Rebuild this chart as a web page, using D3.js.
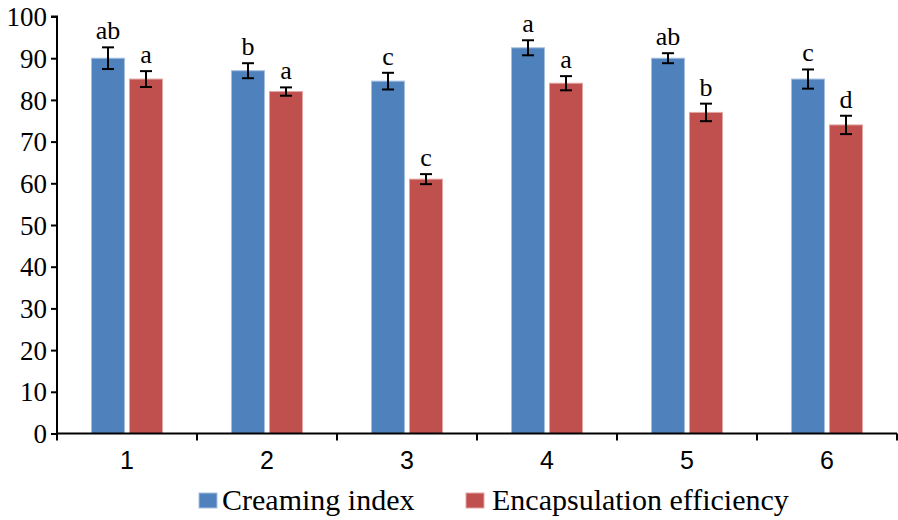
<!DOCTYPE html>
<html><head><meta charset="utf-8">
<script src="https://cdn.jsdelivr.net/npm/d3@7"></script>
<style>body{margin:0;background:#fff}
.serif{font-family:"Liberation Serif","Times New Roman",Times,"DejaVu Serif",serif}
.sans{font-family:"Liberation Sans",Arial,sans-serif}</style>
</head><body>
<svg id="c" width="898" height="520"></svg>
<script>
const categories = ["1","2","3","4","5","6"];
const seriesNames = ["Creaming index","Encapsulation efficiency"];
const creaming = [90, 87, 84.5, 92.5, 90, 85];
const creamingErr = [2.6, 1.8, 2.0, 1.8, 1.2, 2.3];
const creamingLetters = ["ab","b","c","a","ab","c"];
const encaps = [85, 82, 61, 84, 77, 74];
const encapsErr = [1.9, 1.0, 1.2, 1.7, 2.1, 2.2];
const encapsLetters = ["a","a","c","a","b","d"];
const yTicks = [0,10,20,30,40,50,60,70,80,90,100];
const colors = ["#4F81BD","#C0504D"];
const strokes = ["#a7c0e0","#e3a6a4"];

const svg = d3.select("#c");
const x0 = 57, x1 = 897, yb = 433.5, yt = 16.5;
const x = d3.scaleBand().domain(categories).range([x0, x1]).padding(0);
const y = d3.scaleLinear().domain([0,100]).range([yb, yt]);
const xs = d3.scaleBand().domain([0,1]).range([-35.5, 35.5]).paddingInner(0.13);

const series = [
  {vals: creaming, err: creamingErr, lets: creamingLetters},
  {vals: encaps, err: encapsErr, lets: encapsLetters}
];

series.forEach((s, si) => {
  const g = svg.append("g");
  categories.forEach((c, i) => {
    const cx = x(c) + x.bandwidth()/2 + xs(si);
    const w = xs.bandwidth();
    g.append("rect").attr("x", cx).attr("y", y(s.vals[i]))
      .attr("width", w).attr("height", yb - y(s.vals[i]))
      .attr("fill", colors[si]).attr("stroke", strokes[si]).attr("stroke-width", 1);
    const mx = cx + w/2;
    const hi = y(s.vals[i] + s.err[i]), lo = y(s.vals[i] - s.err[i]);
    g.append("line").attr("x1", mx).attr("x2", mx).attr("y1", hi).attr("y2", lo).attr("stroke","#000").attr("stroke-width",2);
    g.append("line").attr("x1", mx-6).attr("x2", mx+6).attr("y1", hi).attr("y2", hi).attr("stroke","#000").attr("stroke-width",2);
    g.append("line").attr("x1", mx-6).attr("x2", mx+6).attr("y1", lo).attr("y2", lo).attr("stroke","#000").attr("stroke-width",2);
    g.append("text").attr("class","serif").attr("x", mx).attr("y", hi - 8).attr("text-anchor","middle")
      .attr("font-size", 26).attr("fill","#000").text(s.lets[i]);
  });
});

// Y axis
const yAxis = d3.axisLeft(y).tickValues(yTicks).tickSize(6).tickPadding(4);
const gy = svg.append("g").attr("transform", `translate(${x0},0)`).call(yAxis).attr("font-family", null);
gy.select(".domain").attr("stroke","#000").attr("stroke-width",2).attr("d", `M-6,${yt}H0V${yb}`);
gy.selectAll(".tick line").attr("stroke","#000").attr("stroke-width",2);
gy.selectAll(".tick text").attr("class","serif")
  .attr("font-size", 27).attr("fill","#000").attr("dy","0.34em");

// X axis
const xAxis = d3.axisBottom(x).tickSize(0).tickPadding(18);
const gx = svg.append("g").attr("transform", `translate(0,${yb})`).call(xAxis).attr("font-family", null);
gx.select(".domain").attr("stroke","#000").attr("stroke-width",2).attr("d", `M${x0},0H${x1}`);
gx.selectAll(".tick text").attr("class","sans")
  .attr("font-size", 25).attr("fill","#000").attr("dy","0.71em");
const bounds = categories.map(c => x(c)).concat([x1]);
gx.selectAll(".btick").data(bounds).enter().append("line")
  .attr("x1", d => d).attr("x2", d => d).attr("y1", 0).attr("y2", 7)
  .attr("stroke","#000").attr("stroke-width",2);

// Legend
const legX = [199, 466], legText = [222, 492];
seriesNames.forEach((n, i) => {
  svg.append("rect").attr("x", legX[i]).attr("y", 493).attr("width", 18).attr("height", 15)
    .attr("fill", colors[i]).attr("stroke", strokes[i]).attr("stroke-width", 1);
  svg.append("text").attr("class","serif").attr("x", legText[i]).attr("y", 510)
    .attr("font-size", 30).attr("fill","#000").text(n);
});
</script>
</body></html>
